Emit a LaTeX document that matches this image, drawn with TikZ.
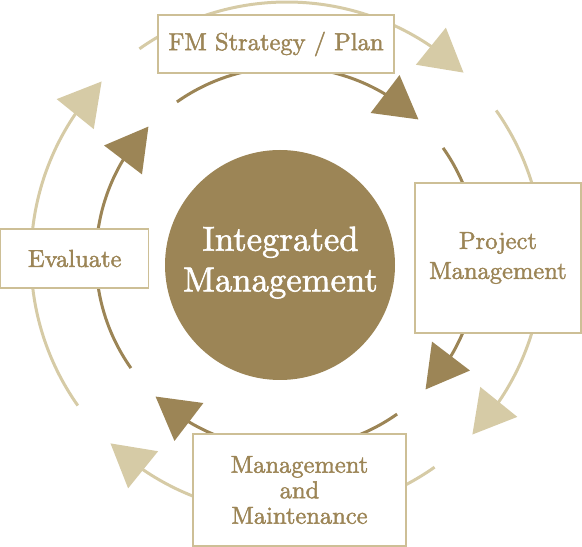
\documentclass[tikz,border=0pt]{standalone}
\usepackage{fontspec}
\setmainfont{lmroman10-regular.otf}[FakeBold=1.7]
\usetikzlibrary{arrows.meta, bending, positioning}
\definecolor{imGold}{HTML}{9C8556}
\definecolor{imSand}{HTML}{D6CBA6}
\definecolor{imFrame}{HTML}{CDBF96}
\tikzset{
  outerring/.style = {imSand, line width=3pt,
                      -{Triangle[length=42pt, width=47pt, flex]}},
  innerring/.style = {imGold, line width=3pt,
                      -{Triangle[length=42pt, width=47pt, flex]}},
  hubdisc/.style   = {circle, fill=imGold, minimum size=230pt, inner sep=0pt},
  hublbl/.style    = {white, align=center,
                      font=\fontsize{34.7}{40.7}\selectfont},
  stagebox/.style  = {draw=imFrame, line width=1.3pt, fill=white, inner sep=0pt,
                      align=center, text=imGold,
                      font=\fontsize{24.5}{30}\selectfont},
}

\begin{document}
\begin{tikzpicture}[x=1pt, y=1pt]
  \useasboundingbox (0,0) rectangle (582,547);
  \coordinate (hub) at (287,289);
  % outer cycle
  \draw[outerring] ([shift={(125.2:256pt)}]hub) arc[start angle=125.2, end angle=46.4, radius=256pt];
  \draw[outerring] ([shift={(35.2:256pt)}]hub) arc[start angle=35.2, end angle=-43.6, radius=256pt];
  \draw[outerring] ([shift={(-54.8:256pt)}]hub) arc[start angle=-54.8, end angle=-133.6, radius=256pt];
  \draw[outerring] ([shift={(-144.8:256pt)}]hub) arc[start angle=-144.8, end angle=-223.6, radius=256pt];
  % inner cycle
  \draw[innerring] ([shift={(125.2:191pt)}]hub) arc[start angle=125.2, end angle=46.5, radius=191pt];
  \draw[innerring] ([shift={(35.2:191pt)}]hub) arc[start angle=35.2, end angle=-43.5, radius=191pt];
  \draw[innerring] ([shift={(-54.8:191pt)}]hub) arc[start angle=-54.8, end angle=-133.5, radius=191pt];
  \draw[innerring] ([shift={(-144.8:191pt)}]hub) arc[start angle=-144.8, end angle=-223.5, radius=191pt];
  % centre and stages
  \node[hubdisc] (core) at (280,282) {};
  \node[hublbl] (corelbl) at (280.5,284.4) {Integrated\\Management};
  \node[stagebox, minimum width=236, minimum height=58] (plan) at (276,503) {FM Strategy / Plan};
  \node[stagebox, minimum width=166, minimum height=150] (project) at (498,289) {Project\\Management};
  \node[stagebox, minimum width=213, minimum height=112, font=\fontsize{24.5}{25.5}\selectfont] (upkeep) at (299.5,57) {Management\\and\\Maintenance};
  \node[stagebox, minimum width=148, minimum height=59] (evaluate) at (74.7,288.5) {Evaluate};
\end{tikzpicture}
\end{document}
